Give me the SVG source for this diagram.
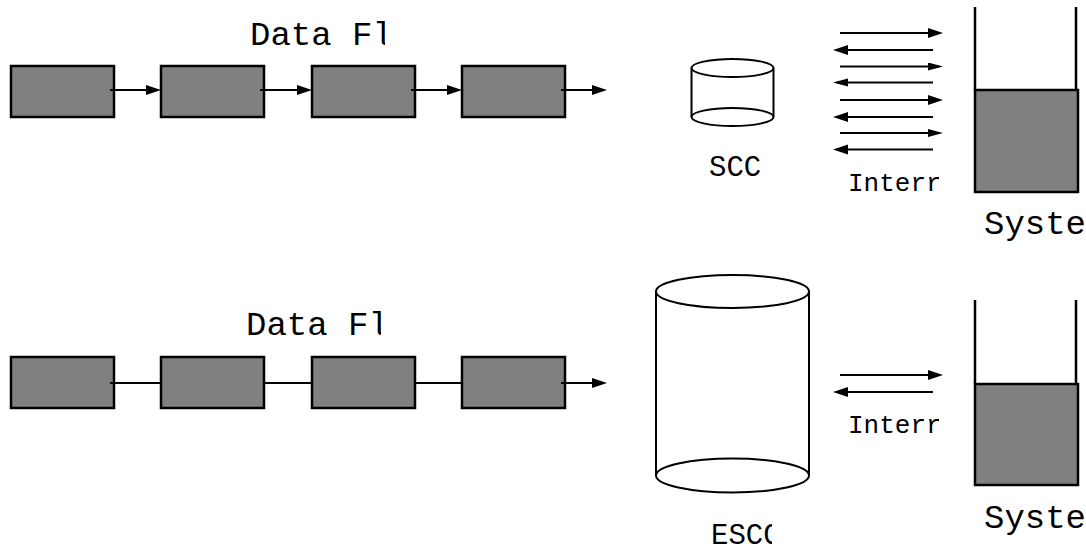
<svg xmlns="http://www.w3.org/2000/svg" width="1086" height="552" viewBox="0 0 1086 552">
<style>
.box{fill:#808080;stroke:#000;stroke-width:2.5}
.ln{stroke:#000;stroke-width:2;fill:none}
.cyl{fill:#fff;stroke:#000;stroke-width:2}
.wall{stroke:#000;stroke-width:2.5;fill:none}
.t{font-family:"Liberation Mono","Courier New",monospace;fill:#000}
</style>
<defs>
<marker id="ah" markerUnits="userSpaceOnUse" markerWidth="16" markerHeight="11" refX="11" refY="5" orient="auto"><path d="M0,0 L15,5 L0,10 z" fill="#000"/></marker>
<marker id="ahs" markerUnits="userSpaceOnUse" markerWidth="16" markerHeight="9" refX="11" refY="4" orient="auto"><path d="M0,0 L15,4 L0,8 z" fill="#000"/></marker>
<clipPath id="c1"><rect x="0" y="0" width="385" height="100"/></clipPath>
<clipPath id="c2"><rect x="0" y="290" width="381" height="60"/></clipPath>
<clipPath id="c3"><rect x="690" y="140" width="71" height="50"/></clipPath>
<clipPath id="c4"><rect x="690" y="505" width="82" height="47"/></clipPath>
<clipPath id="c5"><rect x="840" y="160" width="99" height="40"/></clipPath>
<clipPath id="c6"><rect x="840" y="400" width="99" height="40"/></clipPath>
</defs>

<g id="title-top"><text class="t" x="250" y="45" font-size="34" clip-path="url(#c1)">Data Flow</text></g>
<g id="title-bottom"><text class="t" x="246" y="335" font-size="34" clip-path="url(#c2)">Data Flow</text></g>

<g id="top-b1"><rect class="box" x="11" y="66" width="103" height="51"/></g>
<g id="top-b2"><rect class="box" x="161" y="66" width="103" height="51"/></g>
<g id="top-b3"><rect class="box" x="312" y="66" width="103" height="51"/></g>
<g id="top-b4"><rect class="box" x="462" y="66" width="103" height="51"/></g>

<g id="bot-b1"><rect class="box" x="11" y="357" width="103" height="51"/></g>
<g id="bot-b2"><rect class="box" x="161" y="357" width="103" height="51"/></g>
<g id="bot-b3"><rect class="box" x="312" y="357" width="103" height="51"/></g>
<g id="bot-b4"><rect class="box" x="462" y="357" width="103" height="51"/></g>

<g id="scc">
<path class="cyl" d="M691.5,68 V117 A41,9 0 0 0 773.5,117 V68"/>
<ellipse class="cyl" cx="732.5" cy="68" rx="41" ry="9"/>
<path class="ln" d="M691.5,117 A41,9 0 0 1 773.5,117"/>
<text class="t" x="709" y="176" font-size="29" clip-path="url(#c3)">SCCB</text>
</g>

<g id="escc">
<path class="cyl" d="M656,291.5 V475.5 A76.5,17 0 0 0 809,475.5 V291.5"/>
<ellipse class="cyl" cx="732.5" cy="291.5" rx="76.5" ry="16.5"/>
<path class="ln" d="M656,475.5 A76.5,17 0 0 1 809,475.5"/>
<text class="t" x="711" y="544" font-size="29" clip-path="url(#c4)">ESCCB</text>
</g>

<g id="mem-top">
<path class="wall" d="M975,7 V90 M1076,7 V90"/>
<rect class="box" x="975" y="90" width="103" height="102"/>
<text class="t" x="984" y="234" font-size="34">System</text>
</g>

<g id="mem-bot">
<path class="wall" d="M975,300 V384 M1076,300 V384"/>
<rect class="box" x="975" y="384" width="103" height="101"/>
<text class="t" x="984" y="528" font-size="34">System</text>
</g>

<g id="int-top"><text class="t" x="848" y="191" font-size="26" clip-path="url(#c5)">Interrupt</text></g>
<g id="int-bot"><text class="t" x="848" y="433" font-size="26" clip-path="url(#c6)">Interrupt</text></g>

<g id="connectors">
<path class="ln" marker-end="url(#ah)" d="M110,90 H157"/>
<path class="ln" marker-end="url(#ah)" d="M260,90 H308"/>
<path class="ln" marker-end="url(#ah)" d="M411,90 H458"/>
<path class="ln" marker-end="url(#ah)" d="M561,90 H603"/>

<path class="ln" d="M110,383 H161"/>
<path class="ln" d="M264,383 H312"/>
<path class="ln" d="M415,383 H462"/>
<path class="ln" marker-end="url(#ah)" d="M561,383 H603"/>

<path class="ln" marker-end="url(#ah)" d="M840,33 H939"/>
<path class="ln" marker-end="url(#ah)" d="M933,50 H837"/>
<path class="ln" marker-end="url(#ahs)" d="M840,66.5 H939"/>
<path class="ln" marker-end="url(#ahs)" d="M933,82.5 H837"/>
<path class="ln" marker-end="url(#ah)" d="M840,100 H939"/>
<path class="ln" marker-end="url(#ah)" d="M933,117 H837"/>
<path class="ln" marker-end="url(#ahs)" d="M840,133 H939"/>
<path class="ln" marker-end="url(#ah)" d="M933,149.5 H837"/>

<path class="ln" marker-end="url(#ah)" d="M840,375 H939"/>
<path class="ln" marker-end="url(#ah)" d="M933,392 H837"/>
</g>
</svg>
